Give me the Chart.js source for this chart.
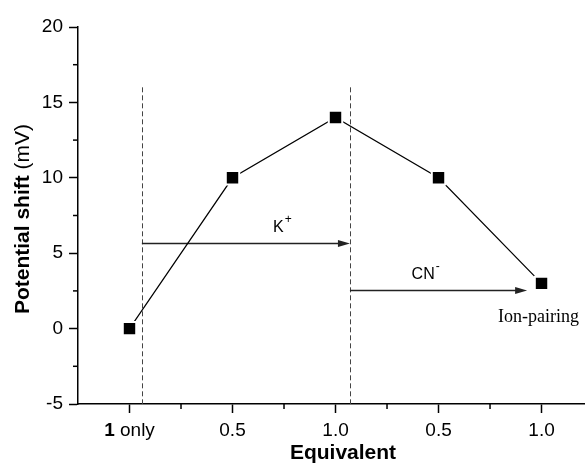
<!DOCTYPE html>
<html>
<head>
<meta charset="utf-8">
<script src="https://cdn.jsdelivr.net/npm/chart.js@4"></script>
<style>
  html, body { margin: 0; padding: 0; background: #fff; overflow: hidden; }
</style>
</head>
<body>
<canvas id="myChart" width="585" height="464"></canvas>
<script>
// data
const categories = ["1 only", "0.5", "1.0", "0.5", "1.0"];
const positions = [1, 2, 3, 4, 5];
const shift = [0, 10, 14, 10, 3];
const yTicks = [-5, 0, 5, 10, 15, 20];
const yMinor = [-2.5, 2.5, 7.5, 12.5, 17.5];
const xMinor = [1.5, 2.5, 3.5, 4.5];

// annotations (data units)
const dividers = [1.12, 3.14];
const dividerTop = 16;
const arrows = [
  { x0: 1.12, x1: 3.14, y: 5.7, label: "K", sup: "+", lx: 2.48, ly: 6.67 },
  { x0: 3.14, x1: 4.86, y: 2.55, label: "CN", sup: "-", lx: 3.87, ly: 3.55 }
];
const note = { text: "Ion-pairing", x: 4.97, y: 0.75 };

const SANS = "'Liberation Sans', Arial, sans-serif";
const SERIF = "'Liberation Serif', 'Times New Roman', serif";

const extras = {
  id: "extras",
  beforeDatasetsDraw(chart) {
    const { ctx, scales: { x, y } } = chart;
    ctx.save();
    // dashed dividers
    ctx.strokeStyle = "#444";
    ctx.lineWidth = 1;
    ctx.setLineDash([5, 3]);
    dividers.forEach(d => {
      const px = Math.round(x.getPixelForValue(d)) + 0.5;
      ctx.beginPath();
      ctx.moveTo(px, y.getPixelForValue(dividerTop));
      ctx.lineTo(px, y.getPixelForValue(-5));
      ctx.stroke();
    });
    ctx.setLineDash([]);

    // arrows
    arrows.forEach(a => {
      const px0 = x.getPixelForValue(a.x0);
      const px1 = x.getPixelForValue(a.x1);
      const py = Math.round(y.getPixelForValue(a.y)) + 0.5;
      ctx.strokeStyle = "#222";
      ctx.fillStyle = "#222";
      ctx.lineWidth = 1.3;
      ctx.beginPath();
      ctx.moveTo(px0, py);
      ctx.lineTo(px1 - 8, py);
      ctx.stroke();
      ctx.beginPath();
      ctx.moveTo(px1, py);
      ctx.lineTo(px1 - 12, py - 3.5);
      ctx.lineTo(px1 - 12, py + 3.5);
      ctx.closePath();
      ctx.fill();

      // label with superscript
      ctx.fillStyle = "#000";
      ctx.font = "16px " + SANS;
      const w1 = ctx.measureText(a.label).width;
      ctx.font = "12px " + SANS;
      const w2 = ctx.measureText(a.sup).width;
      const lx = x.getPixelForValue(a.lx) - (w1 + w2) / 2;
      const ly = y.getPixelForValue(a.ly);
      ctx.textBaseline = "middle";
      ctx.textAlign = "left";
      ctx.font = "16px " + SANS;
      ctx.fillText(a.label, lx, ly);
      ctx.font = "12px " + SANS;
      ctx.fillText(a.sup, lx + w1 + 1, ly - 8);
    });

    // note
    ctx.font = "18px " + SERIF;
    ctx.textAlign = "center";
    ctx.textBaseline = "middle";
    ctx.fillStyle = "#000";
    ctx.fillText(note.text, x.getPixelForValue(note.x), y.getPixelForValue(note.y));
    ctx.restore();
  },
  afterDraw(chart) {
    const { ctx, scales: { x, y } } = chart;
    ctx.save();
    // minor ticks
    ctx.strokeStyle = "#000";
    ctx.lineWidth = 1.5;
    yMinor.forEach(v => {
      const py = y.getPixelForValue(v);
      ctx.beginPath();
      ctx.moveTo(x.left, py);
      ctx.lineTo(x.left - 5, py);
      ctx.stroke();
    });
    xMinor.forEach(v => {
      const px = x.getPixelForValue(v);
      ctx.beginPath();
      ctx.moveTo(px, y.bottom);
      ctx.lineTo(px, y.bottom + 5);
      ctx.stroke();
    });

    // first category label: bold "1" + " only"
    const px = x.getPixelForValue(positions[0]);
    const ty = 431;
    ctx.fillStyle = "#000";
    ctx.textBaseline = "middle";
    ctx.textAlign = "left";
    ctx.font = "bold 19px " + SANS;
    const wb = ctx.measureText("1").width;
    ctx.font = "19px " + SANS;
    const wr = ctx.measureText(" only").width;
    let sx = px - (wb + wr) / 2;
    ctx.font = "bold 19px " + SANS;
    ctx.fillText("1", sx, ty);
    ctx.font = "19px " + SANS;
    ctx.fillText(" only", sx + wb, ty);

    // x title
    ctx.font = "bold 21px " + SANS;
    ctx.textAlign = "center";
    ctx.fillText("Equivalent", 343, 453);

    // y title: bold part + normal part, rotated
    ctx.translate(23, 219);
    ctx.rotate(-Math.PI / 2);
    ctx.textAlign = "left";
    ctx.font = "bold 21px " + SANS;
    const wt1 = ctx.measureText("Potential shift").width;
    ctx.font = "21px " + SANS;
    const wt2 = ctx.measureText(" (mV)").width;
    const start = -(wt1 + wt2) / 2;
    ctx.font = "bold 21px " + SANS;
    ctx.fillText("Potential shift", start, 0);
    ctx.font = "21px " + SANS;
    ctx.fillText(" (mV)", start + wt1, 0);
    ctx.restore();
  }
};

new Chart(document.getElementById("myChart"), {
  type: "line",
  data: {
    datasets: [{
      data: positions.map((p, i) => ({ x: p, y: shift[i] })),
      borderColor: "#000",
      borderWidth: 1.2,
      pointStyle: "rect",
      pointRadius: 9.5,
      pointBackgroundColor: "#000",
      pointBorderColor: "#fff",
      pointBorderWidth: 2,
      tension: 0
    }]
  },
  options: {
    responsive: false,
    animation: false,
    layout: { autoPadding: false, padding: { top: 27, right: 0, left: 0, bottom: 0 } },
    plugins: { legend: { display: false }, tooltip: { enabled: false } },
    scales: {
      x: {
        type: "linear",
        min: 0.5,
        max: 5.422,
        afterBuildTicks: s => { s.ticks = positions.map(v => ({ value: v })); },
        afterFit: s => { s.height = 60; s.paddingLeft = 0; s.paddingRight = 0; },
        border: { color: "#000", width: 1.5 },
        grid: { drawOnChartArea: false, drawTicks: true, tickLength: 9, tickColor: "#000", tickWidth: 1.5 },
        ticks: {
          color: "#000",
          font: { family: SANS, size: 19 },
          padding: 6,
          maxRotation: 0,
          autoSkip: false,
          callback: v => {
            const i = positions.indexOf(v);
            return i > 0 ? categories[i] : "";
          }
        }
      },
      y: {
        min: -5,
        max: 20,
        afterBuildTicks: s => { s.ticks = yTicks.map(v => ({ value: v })); },
        afterFit: s => { s.width = 78; },
        border: { color: "#000", width: 1.5 },
        grid: { drawOnChartArea: false, drawTicks: true, tickLength: 9, tickColor: "#000", tickWidth: 1.5 },
        ticks: {
          color: "#000",
          font: { family: SANS, size: 19 },
          padding: 6
        }
      }
    }
  },
  plugins: [extras]
});
</script>
</body>
</html>
